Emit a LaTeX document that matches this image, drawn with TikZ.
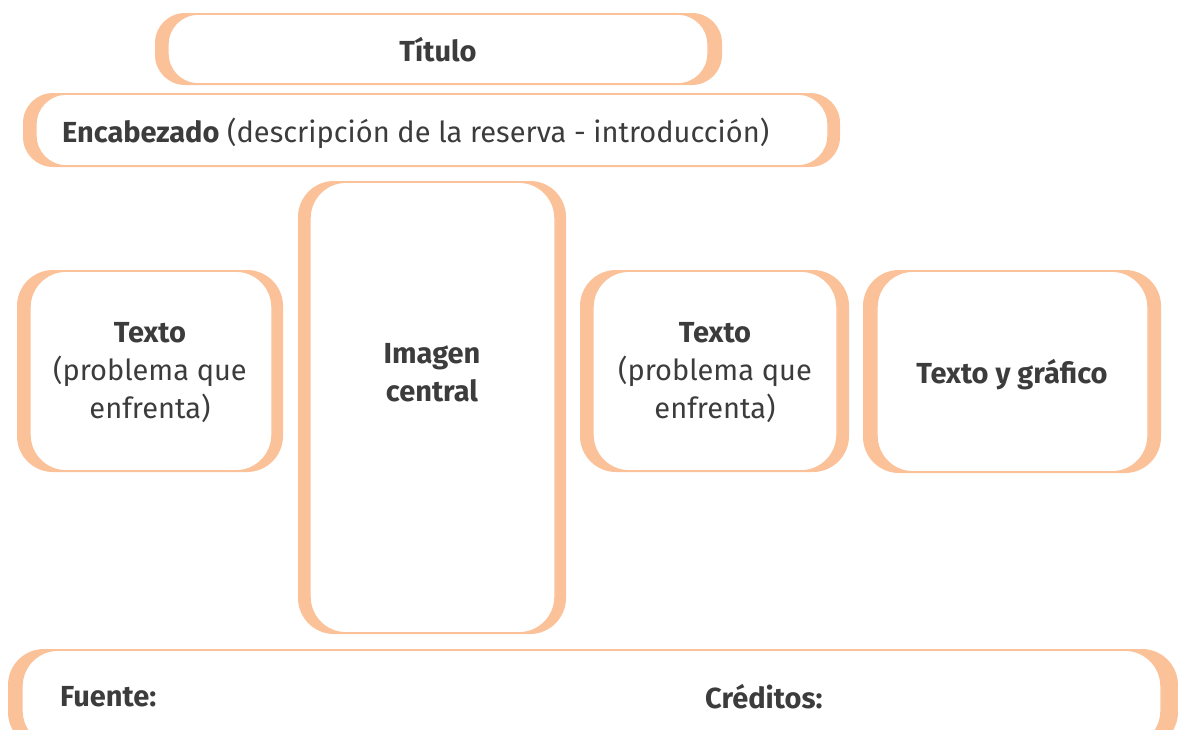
\documentclass[tikz,border=0pt]{standalone}
\usepackage{fontspec}
\setmainfont{Fira Sans}
\usetikzlibrary{fit}
\definecolor{orng}{HTML}{FBC29A}
\definecolor{txt}{HTML}{3C3C3C}
\tikzset{
  front/.style={draw=orng, fill=white, line width=1.4pt, inner sep=0pt},
  lbl/.style={text=txt, align=center, inner sep=0pt, font=\fontsize{29}{38}\selectfont},
  lbll/.style={lbl, anchor=west},
}
% name, back x0, back x1, front x0, front x1, y0, y1, radius
\newcommand\obox[8]{%
  \coordinate (#1b1) at (#2,#6);
  \coordinate (#1b2) at (#3,#7);
  \fill[orng, rounded corners=#8pt] (#1b1) rectangle (#1b2);
  \coordinate (#1f1) at (#4,#6+1.2);
  \coordinate (#1f2) at (#5,#7-1.2);
  \node[front, rounded corners=#8pt, fit=(#1f1)(#1f2)] (#1) {};
}
\begin{document}
\begin{tikzpicture}[x=1pt,y=-1pt]
\useasboundingbox (0,0) rectangle (1178,729);
\clip (0,0) rectangle (1178,729);
\obox{titulo}{155}{722}{168}{708}{13}{85}{30}
\obox{enc}{23}{840}{36}{828}{93}{167}{30}
\obox{textoL}{17}{283}{30}{272}{270}{472}{36}
\obox{imagen}{298}{566}{310}{555}{181}{634}{36}
\obox{textoR}{580}{849}{593}{837}{270}{472}{36}
\obox{grafico}{863}{1161}{877}{1148}{270}{473}{36}
\obox{pie}{8}{1178}{22}{1161}{649}{748}{36}

\node[lbl] (tTitulo) at (438,50) {\bfseries Título};
\node[lbll] (tEnc) at (62,133) {\textbf{Encabezado} (descripción de la reserva - introducción)};
\node[lbl] (tTextoL) at (150,373) {\textbf{Texto}\\(problema que\\enfrenta)};
\node[lbl] (tImagen) at (432,373) {\textbf{Imagen}\\\textbf{central}};
\node[lbl] (tTextoR) at (715,373) {\textbf{Texto}\\(problema que\\enfrenta)};
\node[lbl] (tGrafico) at (1012,375) {\textbf{Texto y gráfico}};
\node[lbll] (tFuente) at (60,697) {\textbf{Fuente:}};
\node[lbll] (tCreditos) at (705,697) {\textbf{Créditos:}};
\end{tikzpicture}
\end{document}
